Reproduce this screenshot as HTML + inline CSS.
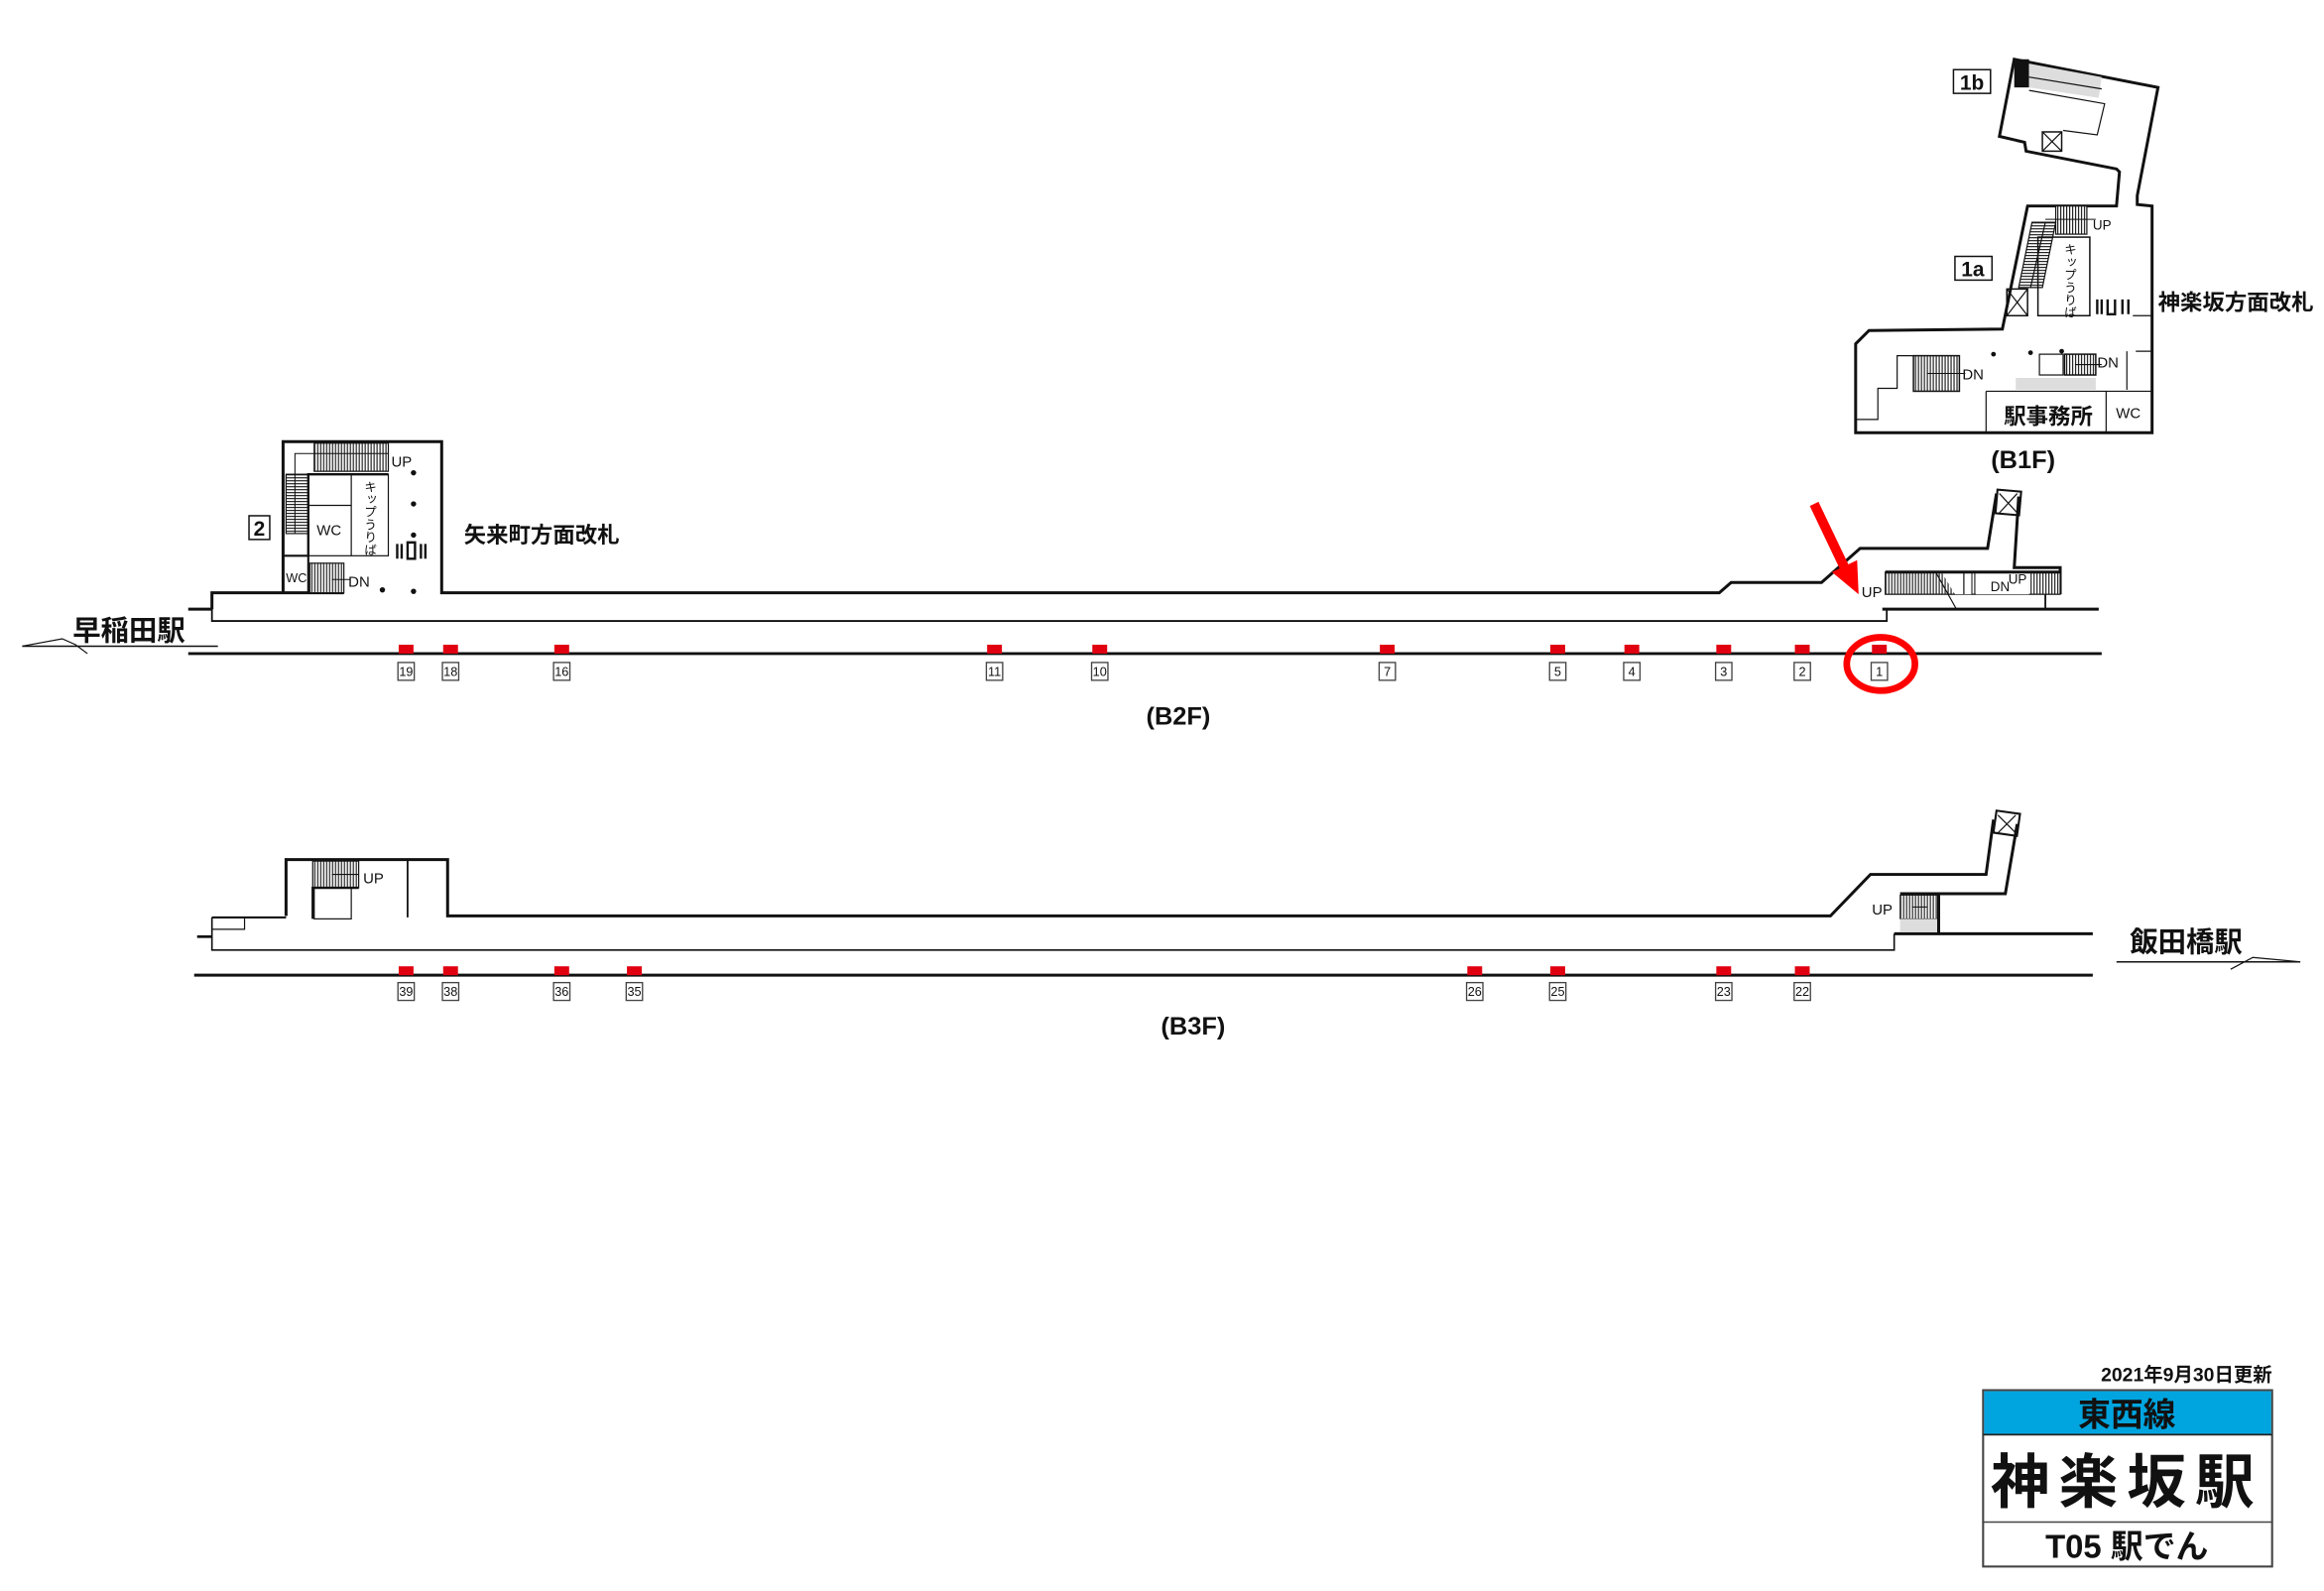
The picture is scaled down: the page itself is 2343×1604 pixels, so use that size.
<!DOCTYPE html>
<html><head><meta charset="utf-8"><style>
html,body{margin:0;padding:0;background:#fff;}
svg{display:block;}
text{font-family:"Liberation Sans","Noto Sans CJK JP",sans-serif;fill:#111;}
.b{font-weight:bold;}
</style></head><body>
<svg width="2343" height="1604" viewBox="0 0 1568 1073.5" preserveAspectRatio="none" xmlns="http://www.w3.org/2000/svg">
<defs>
<pattern id="vh" width="2" height="4" patternUnits="userSpaceOnUse"><rect width="2" height="4" fill="#fff"/><rect width="0.8" height="4" fill="#222"/></pattern>
<pattern id="hh" width="4" height="2" patternUnits="userSpaceOnUse"><rect width="4" height="2" fill="#fff"/><rect width="4" height="0.8" fill="#222"/></pattern>
</defs>
<g fill="none" stroke="#111" stroke-width="2" stroke-linejoin="miter">

<!-- ===== B1F ===== -->
<polygon points="1359,40 1456,59 1442,132 1442,138 1452,139 1452,292 1252,292 1252,232 1261,223 1351,222 1368,139 1428,139 1430,116 1428,114 1367,102 1366,96 1349,92" fill="#fff"/>
<rect x="1359" y="40" width="10" height="19" fill="#111" stroke="none"/>
<polygon points="1369,43 1418,52 1416,66 1369,59" fill="#ddd" stroke="none"/>
<line x1="1369" y1="52" x2="1418" y2="60" stroke-width="0.8"/>
<polyline points="1369,61 1420,70 1415,91 1392,88" stroke-width="0.8"/>
<rect x="1378" y="89" width="13" height="13" stroke-width="1"/>
<path d="M1378,89 L1391,102 M1391,89 L1378,102" stroke-width="0.8"/>
<rect x="1318" y="47" width="25" height="16" stroke-width="1"/>
<text x="1330.5" y="60.5" font-size="14" text-anchor="middle" stroke="none" class="b">1b</text>
<rect x="1387" y="139" width="21" height="19" fill="url(#vh)" stroke-width="0.8"/>
<line x1="1380" y1="148" x2="1414" y2="148" stroke-width="0.7"/>
<text x="1412" y="155" font-size="9" stroke="none">UP</text>
<polygon points="1371,150 1387,150 1378,194 1362,194" fill="url(#hh)" stroke-width="0.8"/>
<line x1="1380" y1="150" x2="1370" y2="194" stroke-width="0.8"/>
<rect x="1375" y="160" width="35" height="53" stroke-width="1"/>
<text font-size="8.5" stroke="none" x="1396" y="164" style="writing-mode:vertical-rl">キップうりば</text>
<rect x="1354" y="195" width="14" height="18" stroke-width="1"/>
<path d="M1354,195 L1368,213 M1368,195 L1354,213" stroke-width="0.8"/>
<rect x="1319" y="173" width="25" height="16" stroke-width="1"/>
<text x="1331" y="186.5" font-size="14" text-anchor="middle" stroke="none" class="b">1a</text>
<path d="M1415,202v10M1418,202v10M1422,202v10h5v-10M1432,202v10M1436,202v10" stroke-width="1.6"/>
<path d="M1439,213H1452M1441,237H1452" stroke-width="0.8"/>
<text x="1456" y="209" font-size="15" stroke="none" class="b">神楽坂方面改札</text>
<polyline points="1322,240 1280,240 1280,262 1267,262 1267,283 1252,283" stroke-width="0.8"/>
<rect x="1291" y="240" width="31" height="24" fill="url(#vh)" stroke-width="1"/>
<line x1="1300" y1="252" x2="1326" y2="252" stroke-width="0.7"/>
<text x="1324" y="256" font-size="10" stroke="none">DN</text>
<circle cx="1345" cy="239" r="1.6" fill="#111" stroke="none"/>
<circle cx="1370" cy="238" r="1.6" fill="#111" stroke="none"/>
<circle cx="1391" cy="237" r="1.6" fill="#111" stroke="none"/>
<rect x="1376" y="239" width="16" height="14" stroke-width="0.8"/>
<rect x="1393" y="239" width="21" height="14" fill="url(#vh)" stroke-width="1"/>
<line x1="1400" y1="246" x2="1418" y2="246" stroke-width="0.7"/>
<text x="1415" y="248" font-size="10" stroke="none">DN</text>
<rect x="1360" y="255" width="54" height="8" fill="#ddd" stroke="none"/>
<line x1="1435" y1="237" x2="1435" y2="263" stroke-width="0.8"/>
<path d="M1340,264H1452M1340,264V292M1421,264V292" stroke-width="0.8"/>
<text x="1382" y="286" font-size="15" text-anchor="middle" stroke="none" class="b">駅事務所</text>
<text x="1436" y="282" font-size="10" text-anchor="middle" stroke="none">WC</text>
<text x="1365" y="316" font-size="17" text-anchor="middle" stroke="none" class="b">(B1F)</text>

<!-- ===== B2F ===== -->
<polyline points="232,400 143,400 143,419 1273,419 1273,411 1414,411" stroke-width="1.2"/>
<line x1="127" y1="411" x2="143" y2="411"/>
<polyline points="232,400 143,400 143,411"/>
<polyline points="191,400 191,298 298,298 298,400 1160,400 1168,393 1229,393 1255,370 1341,370 1347,333"/>
<polyline points="1362,335 1359,383 1390,383 1390,401"/>
<rect x="1347" y="331" width="16" height="16" transform="rotate(5 1355 339)" stroke-width="1.4"/>
<path d="M1349,333 L1361,346 M1361,333 L1349,346" stroke-width="0.8"/>
<rect x="1272" y="386" width="118" height="15" fill="url(#vh)" stroke-width="0.8"/>
<polygon points="1310,386 1330,386 1330,401 1319,401" fill="#fff" stroke="none"/>
<line x1="1306" y1="386" x2="1320" y2="411" stroke-width="0.8"/>
<line x1="1325" y1="386" x2="1325" y2="401" stroke-width="0.8"/>
<rect x="1333" y="386" width="36" height="15" fill="#fff" stroke="none"/>
<text x="1343" y="399" font-size="9" stroke="none">DN</text>
<text x="1355" y="394" font-size="9" stroke="none">UP</text>
<line x1="1272" y1="386" x2="1390" y2="386"/>
<line x1="1380" y1="401" x2="1380" y2="411" stroke-width="1.2"/>
<line x1="1270" y1="411" x2="1416" y2="411" stroke-width="2"/>
<text x="1256" y="403" font-size="10" stroke="none">UP</text>
<rect x="212" y="299" width="50" height="19" fill="url(#vh)" stroke-width="0.8"/>
<rect x="193" y="320" width="15" height="40" fill="url(#hh)" stroke-width="0.8"/>
<polyline points="199,360 199,306 262,306" stroke-width="0.7"/>
<polyline points="208,375 208,320 262,320" stroke-width="1.6"/>
<rect x="208" y="320" width="54" height="55" stroke-width="0.8"/>
<line x1="237" y1="320" x2="237" y2="375" stroke-width="0.8"/>
<line x1="208" y1="341" x2="237" y2="341" stroke-width="0.8"/>
<text x="222" y="361" font-size="10" text-anchor="middle" stroke="none">WC</text>
<text font-size="8.5" stroke="none" x="249" y="324" style="writing-mode:vertical-rl">キップうりば</text>
<path d="M191,375H208V400" stroke-width="1.4"/>
<text x="200" y="393" font-size="8.5" text-anchor="middle" stroke="none">WC</text>
<rect x="209" y="380" width="23" height="20" fill="url(#vh)" stroke-width="0.8"/>
<line x1="224" y1="391" x2="236" y2="391" stroke-width="0.7"/>
<text x="235" y="396" font-size="10" stroke="none">DN</text>
<text x="264" y="315" font-size="10" stroke="none">UP</text>
<g fill="#111" stroke="none">
<circle cx="279" cy="319" r="1.8"/><circle cx="279" cy="340" r="1.8"/><circle cx="279" cy="361" r="1.8"/><circle cx="279" cy="399" r="1.8"/><circle cx="258" cy="398" r="1.8"/>
</g>
<path d="M268,367v10M271,367v10M275,366v11h5v-11zM284,367v10M287,367v10" stroke-width="1.6"/>
<rect x="168" y="348" width="14" height="16" stroke-width="1"/>
<text x="175" y="361.5" font-size="14" text-anchor="middle" stroke="none" class="b">2</text>
<text x="313" y="366" font-size="15" stroke="none" class="b">矢来町方面改札</text>
<line x1="127" y1="441" x2="1418" y2="441" stroke-width="2"/>
<text x="49" y="432" font-size="19" stroke="none" class="b">早稲田駅</text>
<polyline points="15,436 147,436" stroke-width="1"/>
<polyline points="15,436 42,431 51,435 59,441" stroke-width="0.8"/>
<text x="795" y="489" font-size="17" text-anchor="middle" stroke="none" class="b">(B2F)</text>

<!-- ===== B3F ===== -->
<polyline points="193,618 193,580 302,580 302,618 1235,618 1262,590 1340,590 1345,553"/>
<polyline points="1361,556 1353,603 1282,603"/>
<rect x="1346" y="548" width="16" height="15" transform="rotate(8 1354 555)" stroke-width="1.4"/>
<path d="M1348,550 L1360,562 M1360,550 L1348,562" stroke-width="0.8"/>
<line x1="275" y1="580" x2="275" y2="619" stroke-width="1.2"/>
<polyline points="143,619 193,619" stroke-width="1.4"/>
<rect x="211" y="581" width="31" height="18" fill="url(#vh)" stroke-width="0.8"/>
<line x1="224" y1="590" x2="242" y2="590" stroke-width="0.7"/>
<polyline points="211,620 211,599 242,599" stroke-width="1.6"/>
<rect x="212" y="599" width="25" height="21" stroke-width="0.8"/>
<text x="245" y="596" font-size="10" stroke="none">UP</text>
<polyline points="143,619 143,641 1278,641 1278,630" stroke-width="1.1"/>
<line x1="1412" y1="630" x2="1278" y2="630" stroke-width="2"/>
<line x1="133" y1="632" x2="143" y2="632" stroke-width="1.8"/>
<polyline points="143,627 165,627 165,619" stroke-width="0.8"/>
<rect x="1282" y="604" width="26" height="16" fill="url(#vh)" stroke-width="0.6"/>
<rect x="1282" y="620" width="26" height="9" fill="#ddd" stroke="none"/>
<line x1="1290" y1="612" x2="1300" y2="612" stroke-width="0.7"/>
<line x1="1308" y1="603" x2="1308" y2="630" stroke-width="2"/>
<text x="1263" y="617" font-size="10" stroke="none">UP</text>
<line x1="131" y1="658" x2="1412" y2="658" stroke-width="2"/>
<text x="1437" y="642" font-size="19" stroke="none" class="b">飯田橋駅</text>
<line x1="1428" y1="649" x2="1552" y2="649" stroke-width="1"/>
<polyline points="1505,654 1520,646 1552,649" stroke-width="0.8"/>
<text x="805" y="698" font-size="17" text-anchor="middle" stroke="none" class="b">(B3F)</text>
</g>

<g font-size="8.5" text-anchor="middle">
<g fill="#e00010">
<rect x="269" y="435" width="10" height="6"/><rect x="299" y="435" width="10" height="6"/><rect x="374" y="435" width="10" height="6"/><rect x="666" y="435" width="10" height="6"/><rect x="737" y="435" width="10" height="6"/><rect x="931" y="435" width="10" height="6"/><rect x="1046" y="435" width="10" height="6"/><rect x="1096" y="435" width="10" height="6"/><rect x="1158" y="435" width="10" height="6"/><rect x="1211" y="435" width="10" height="6"/><rect x="1263" y="435" width="10" height="6"/>
<rect x="269" y="652" width="10" height="6"/><rect x="299" y="652" width="10" height="6"/><rect x="374" y="652" width="10" height="6"/><rect x="423" y="652" width="10" height="6"/><rect x="990" y="652" width="10" height="6"/><rect x="1046" y="652" width="10" height="6"/><rect x="1158" y="652" width="10" height="6"/><rect x="1211" y="652" width="10" height="6"/>
</g>
<g fill="#fff" stroke="#444" stroke-width="0.9">
<rect x="268.5" y="447" width="11" height="12"/><rect x="298.5" y="447" width="11" height="12"/><rect x="373.5" y="447" width="11" height="12"/><rect x="665.5" y="447" width="11" height="12"/><rect x="736.5" y="447" width="11" height="12"/><rect x="930.5" y="447" width="11" height="12"/><rect x="1045.5" y="447" width="11" height="12"/><rect x="1095.5" y="447" width="11" height="12"/><rect x="1157.5" y="447" width="11" height="12"/><rect x="1210.5" y="447" width="11" height="12"/><rect x="1262.5" y="447" width="11" height="12"/>
<rect x="268.5" y="663" width="11" height="12"/><rect x="298.5" y="663" width="11" height="12"/><rect x="373.5" y="663" width="11" height="12"/><rect x="422.5" y="663" width="11" height="12"/><rect x="989.5" y="663" width="11" height="12"/><rect x="1045.5" y="663" width="11" height="12"/><rect x="1157.5" y="663" width="11" height="12"/><rect x="1210.5" y="663" width="11" height="12"/>
</g>
<text x="274" y="456">19</text><text x="304" y="456">18</text><text x="379" y="456">16</text><text x="671" y="456">11</text><text x="742" y="456">10</text><text x="936" y="456">7</text><text x="1051" y="456">5</text><text x="1101" y="456">4</text><text x="1163" y="456">3</text><text x="1216" y="456">2</text><text x="1268" y="456">1</text>
<text x="274" y="672">39</text><text x="304" y="672">38</text><text x="379" y="672">36</text><text x="428" y="672">35</text><text x="995" y="672">26</text><text x="1051" y="672">25</text><text x="1163" y="672">23</text><text x="1216" y="672">22</text>
</g>

<ellipse cx="1269" cy="448" rx="23" ry="18" fill="none" stroke="#f00" stroke-width="4.5"/>
<line x1="1224" y1="340" x2="1245" y2="384" stroke="#f00" stroke-width="6.5"/>
<polygon points="1254,401 1236,386 1253,378" fill="#f00"/>

<text x="1533" y="932" font-size="13" text-anchor="end" class="b">2021年9月30日更新</text>
<rect x="1338" y="938" width="195" height="119" fill="#fff" stroke="#444" stroke-width="1.4"/>
<rect x="1338.7" y="938.7" width="193.6" height="29" fill="#00a5e0"/>
<line x1="1338" y1="968" x2="1533" y2="968" stroke="#222" stroke-width="1.2"/>
<line x1="1338" y1="1027" x2="1533" y2="1027" stroke="#444" stroke-width="1"/>
<text x="1435" y="962" font-size="22" text-anchor="middle" class="b">東西線</text>
<text x="1435" y="1014" font-size="40" text-anchor="middle" letter-spacing="6" class="b">神楽坂駅</text>
<text x="1435" y="1051" font-size="22" text-anchor="middle" class="b">T05 駅でん</text>
</svg>
</body></html>
